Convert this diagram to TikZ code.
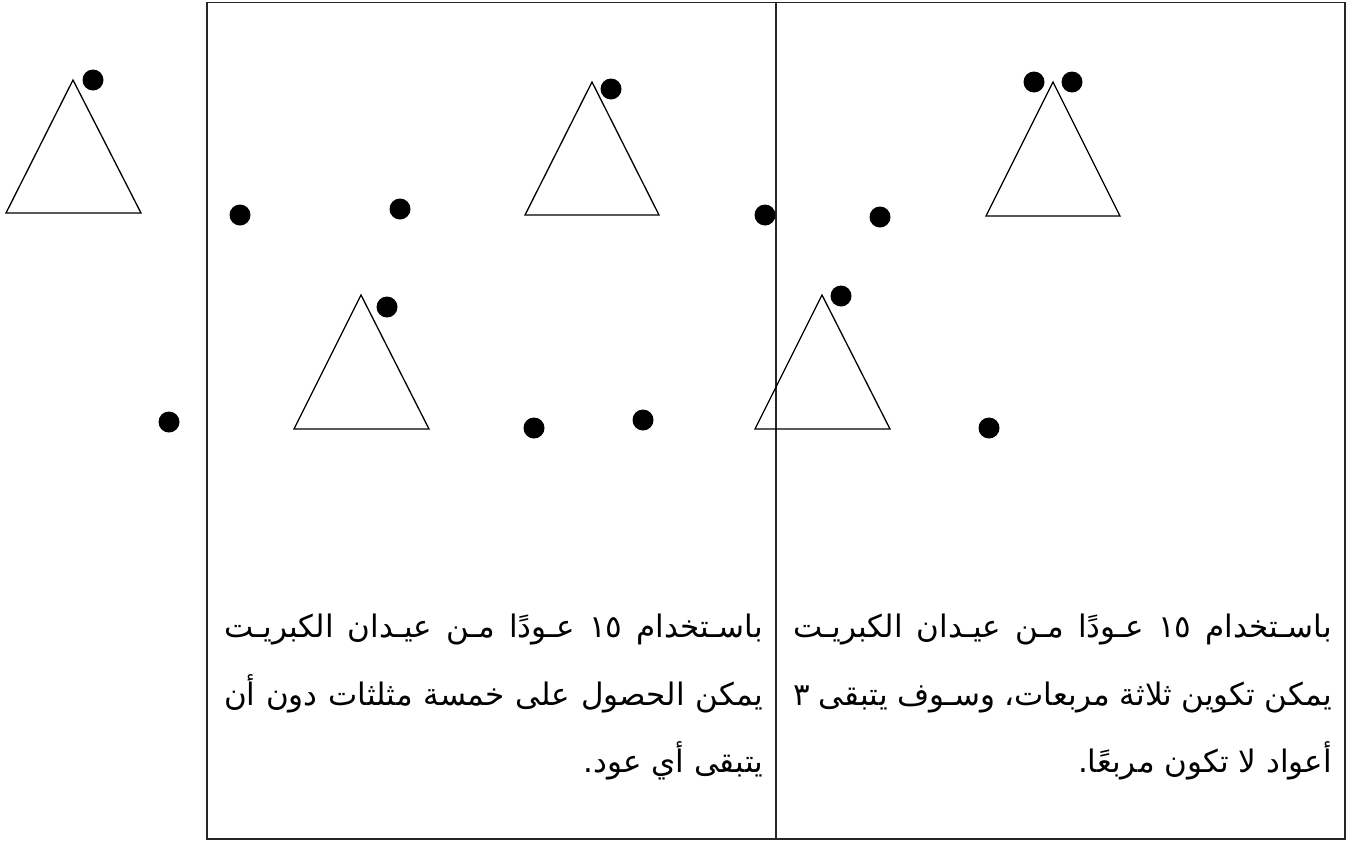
\documentclass[tikz,border=0pt]{standalone}
\usepackage{fontspec}
\TeXXeTstate=1
\newfontfamily\arabicfont[Script=Arabic,Scale=1.0]{DejaVu Sans}
\newcommand\arsize{\arabicfont\fontsize{31}{36}\selectfont}
\tikzset{
  frame/.style={line width=1.4pt, draw=black!85},
  tri/.style={line width=1.3pt, draw=black, line join=miter},
  arline/.style={inner sep=0pt, outer sep=0pt, font=\arsize},
}
\newcommand\jline[1]{\hbox to 539pt{\arsize\beginR #1\endR}}
\newcommand\nline[1]{\hbox{\arsize\beginR #1\endR}}
\newcommand\dotr{10.5}
\begin{document}
\begin{tikzpicture}[x=1pt,y=-1pt]
\useasboundingbox (0,0) rectangle (1348,841);
% table
\draw[frame] (207,2.5) rectangle (1345,839);
\draw[frame] (776,2.5) -- (776,839);
% triangles
\draw[tri] (73,80) -- (141,213) -- (6,213) -- cycle;
\draw[tri] (592,82) -- (659,215) -- (525,215) -- cycle;
\draw[tri] (1053,82) -- (1120,216) -- (986,216) -- cycle;
\draw[tri] (361,295) -- (429,429) -- (294,429) -- cycle;
\draw[tri] (822,295) -- (890,429) -- (755,429) -- cycle;
% dots
\foreach \p in {(93,80),(611,89),(1034,82),(1072,82),(387,307),(841,296),
  (169,422),(240,215),(400,209),(765,215),(880,217),(534,428),(643,420),(989,428)}
  \fill \p circle (\dotr);
% left cell text
\node[arline, anchor=base east] (l1) at (763,637) {\jline{باسـتخدام \beginL١٥\endL{} عـودًا مـن عيـدان الكبريـت}};
\node[arline, anchor=base east] (l2) at (763,705) {\jline{يمكن الحصول على خمسة مثلثات دون أن}};
\node[arline, anchor=base east] (l3) at (763,772) {\nline{يتبقى أي عود.}};
% right cell text
\node[arline, anchor=base east] (r1) at (1332,637) {\jline{باسـتخدام \beginL١٥\endL{} عـودًا مـن عيـدان الكبريـت}};
\node[arline, anchor=base east] (r2) at (1332,705) {\jline{يمكن تكوين ثلاثة مربعات، وسـوف يتبقى ٣}};
\node[arline, anchor=base east] (r3) at (1332,772) {\nline{أعواد لا تكون مربعًا.}};
\end{tikzpicture}
\end{document}
